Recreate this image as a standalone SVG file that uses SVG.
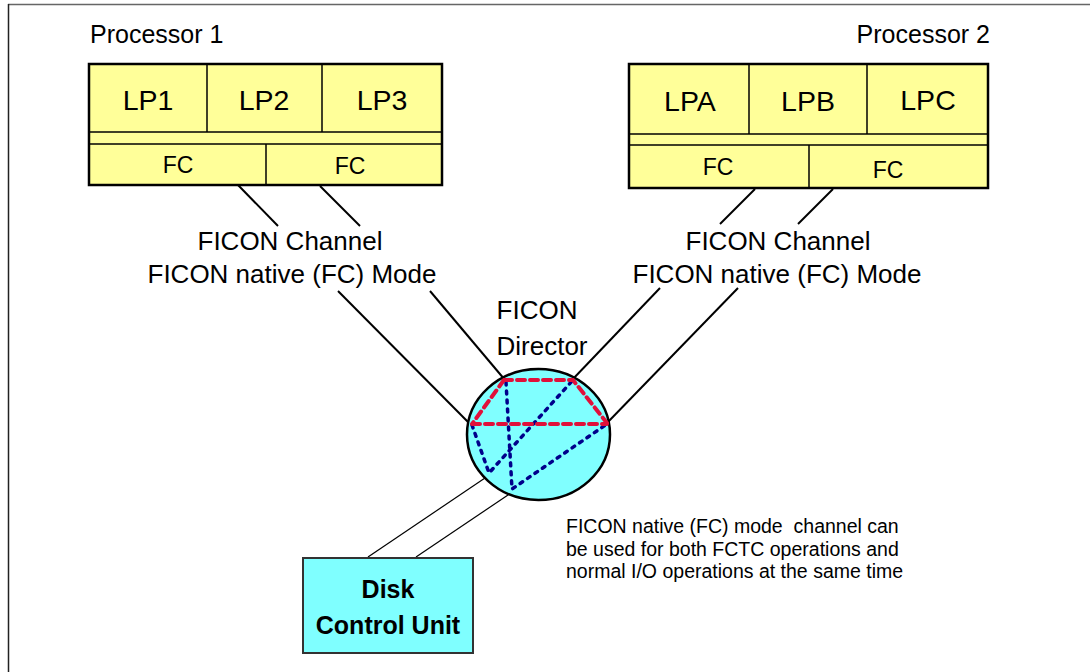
<svg xmlns="http://www.w3.org/2000/svg" width="1090" height="672" viewBox="0 0 1090 672">
<style>
text{font-family:"Liberation Sans",Arial,sans-serif;fill:#000}
.box{fill:#FFFF99;stroke:#000;stroke-width:2.5}
.div{stroke:#000;stroke-width:1.5;fill:none}
.conn{stroke:#000;stroke-width:2;fill:none}
.thin{stroke:#000;stroke-width:1.2;fill:none}
.red{stroke:#E0103A;stroke-width:4;stroke-dasharray:8 5;stroke-linecap:round;fill:none}
.blue{stroke:#00008B;stroke-width:3.5;stroke-dasharray:3 6;stroke-linecap:round;fill:none}
.lp{font-size:28.5px;text-anchor:middle}
.fc{font-size:23px;text-anchor:middle}
.lbl{font-size:26px;text-anchor:middle}
</style>
<rect width="1090" height="672" fill="#fff"/>
<g id="frame">
<line x1="8" y1="4.5" x2="1090" y2="4.5" stroke="#666" stroke-width="1.5"/>
<line x1="8.5" y1="4" x2="8.5" y2="672" stroke="#222" stroke-width="1.5"/>
</g>
<g id="connectors">
<line class="conn" x1="238" y1="185" x2="278" y2="226"/>
<line class="conn" x1="320" y1="186" x2="360" y2="226"/>
<line class="conn" x1="338" y1="291" x2="470" y2="424"/>
<line class="conn" x1="430" y1="291" x2="505" y2="380"/>
<line class="conn" x1="755" y1="189" x2="720" y2="224"/>
<line class="conn" x1="833" y1="189" x2="798" y2="224"/>
<line class="conn" x1="660" y1="288" x2="572" y2="380"/>
<line class="conn" x1="738" y1="288" x2="607" y2="423"/>
<line class="thin" x1="485" y1="478" x2="368" y2="557"/>
<line class="thin" x1="508" y1="495" x2="416" y2="557"/>
</g>
<g id="processor1">
<text x="90" y="43" font-size="25">Processor 1</text>
<rect class="box" x="89" y="64" width="353" height="121"/>
<line class="div" x1="89" y1="132" x2="442" y2="132"/>
<line class="div" x1="89" y1="144" x2="442" y2="144"/>
<line class="div" x1="207" y1="64" x2="207" y2="132"/>
<line class="div" x1="322" y1="64" x2="322" y2="132"/>
<line class="div" x1="266" y1="144" x2="266" y2="185"/>
<text class="lp" x="148" y="110">LP1</text>
<text class="lp" x="264" y="110">LP2</text>
<text class="lp" x="382" y="110">LP3</text>
<text class="fc" x="178" y="173">FC</text>
<text class="fc" x="350" y="174">FC</text>
</g>
<g id="processor2">
<text x="990" y="43" font-size="25" text-anchor="end">Processor 2</text>
<rect class="box" x="629" y="64" width="359" height="124"/>
<line class="div" x1="629" y1="134" x2="988" y2="134"/>
<line class="div" x1="629" y1="145" x2="988" y2="145"/>
<line class="div" x1="749" y1="64" x2="749" y2="134"/>
<line class="div" x1="867" y1="64" x2="867" y2="134"/>
<line class="div" x1="809" y1="145" x2="809" y2="188"/>
<text class="lp" x="690" y="111">LPA</text>
<text class="lp" x="808" y="111">LPB</text>
<text class="lp" x="928" y="110">LPC</text>
<text class="fc" x="718" y="175">FC</text>
<text class="fc" x="888" y="178">FC</text>
</g>
<g id="label-left">
<text class="lbl" x="290" y="250">FICON Channel</text>
<text class="lbl" x="292" y="283">FICON native (FC) Mode</text>
</g>
<g id="label-right">
<text class="lbl" x="778" y="250">FICON Channel</text>
<text class="lbl" x="777" y="283">FICON native (FC) Mode</text>
</g>
<g id="director">
<text class="lbl" x="537" y="319">FICON</text>
<text class="lbl" x="542" y="355">Director</text>
<ellipse cx="538.5" cy="434.5" rx="71.5" ry="65.5" fill="#80FFFF" stroke="#000" stroke-width="2.5"/>
<path class="blue" d="M506 382 L512 489 L607 424 M472 425 L489 473 L573 380"/>
<path class="red" d="M504 380 L573 380 L607 423 M472 424 L607 424 M504 380 L472 424"/>
</g>
<g id="disk">
<rect x="303" y="558" width="170" height="95" fill="#7FFFFF" stroke="#333" stroke-width="2"/>
<text x="388" y="598" font-size="25" font-weight="bold" text-anchor="middle">Disk</text>
<text x="388" y="634" font-size="25" font-weight="bold" text-anchor="middle">Control Unit</text>
</g>
<g id="note" font-size="19.5">
<text x="566" y="533" xml:space="preserve">FICON native (FC) mode  channel can</text>
<text x="566" y="556">be used for both FCTC operations and</text>
<text x="566" y="578">normal I/O operations at the same time</text>
</g>
</svg>
